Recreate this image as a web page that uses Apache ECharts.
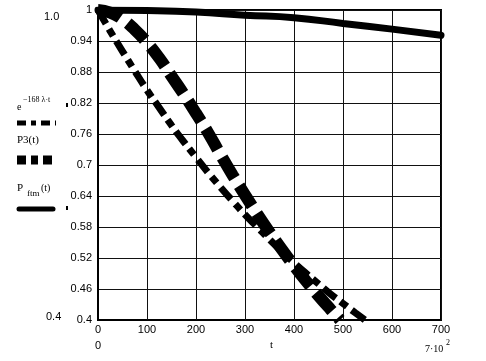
<!DOCTYPE html>
<html>
<head>
<meta charset="utf-8">
<script src="https://cdn.jsdelivr.net/npm/echarts@6/dist/echarts.min.js"></script>
<style>html,body{margin:0;padding:0;background:#fff}#c{width:486px;height:361px}</style>
</head>
<body>
<div id="c"></div>
<script>
// Data
var yTicks = [0.4, 0.46, 0.52, 0.58, 0.64, 0.7, 0.76, 0.82, 0.88, 0.94, 1];
var xTicks = [0, 100, 200, 300, 400, 500, 600, 700];

var expT = [0, 25, 50, 75, 100, 125, 150, 175, 200, 225, 250, 275, 300, 325, 350, 375, 400, 425, 450, 475, 500, 525, 545];
var expV = [1, 0.959, 0.92, 0.882, 0.845, 0.811, 0.777, 0.745, 0.715, 0.685, 0.657, 0.63, 0.604, 0.58, 0.556, 0.533, 0.511, 0.49, 0.47, 0.45, 0.432, 0.414, 0.4];

var p3T = [0, 25, 50, 75, 100, 125, 150, 175, 200, 225, 250, 275, 300, 325, 350, 375, 400, 425, 450, 475, 494];
var p3V = [1, 0.995, 0.982, 0.962, 0.937, 0.907, 0.872, 0.837, 0.8, 0.762, 0.72, 0.68, 0.642, 0.605, 0.57, 0.537, 0.505, 0.475, 0.447, 0.42, 0.4];

var ftmT = [0, 100, 200, 300, 400, 500, 600, 700];
var ftmV = [1, 0.999, 0.996, 0.99, 0.985, 0.974, 0.963, 0.951];

function pairs(t, v) { return t.map(function (x, i) { return [x, v[i]]; }); }

var chart = echarts.init(document.getElementById('c'), null, {renderer: 'canvas'});
var serif = 'Liberation Serif';
var sans = 'Liberation Sans';
chart.setOption({
  animation: false,
  backgroundColor: '#fff',
  grid: {left: 98, right: 45, top: 10, bottom: 41, show: true, borderColor: '#000', borderWidth: 2},
  xAxis: {
    type: 'value', min: 0, max: 700, interval: 100,
    axisLine: {show: true, lineStyle: {color: '#000', width: 1}},
    axisTick: {show: false},
    splitLine: {show: true, lineStyle: {color: '#111', width: 1}},
    axisLabel: {color: '#000', fontFamily: sans, fontSize: 11, margin: 4,
      customValues: xTicks}
  },
  yAxis: {
    type: 'value', min: 0.4, max: 1,
    axisLine: {show: true, lineStyle: {color: '#000', width: 1}},
    axisTick: {show: false, customValues: yTicks},
    splitLine: {show: true, lineStyle: {color: '#111', width: 1}},
    axisLabel: {color: '#000', fontFamily: sans, fontSize: 11, margin: 6,
      customValues: yTicks}
  },
  series: [
    {type: 'line', data: pairs(ftmT, ftmV), smooth: true, showSymbol: false,
      lineStyle: {color: '#000', width: 7, cap: 'round'}},
    {type: 'line', data: pairs(expT, expV), smooth: true, showSymbol: false,
      lineStyle: {color: '#000', width: 7, type: [16, 6, 8, 6]}},
    {type: 'line', data: pairs(p3T, p3V), smooth: true, showSymbol: false,
      lineStyle: {color: '#000', width: 12, type: [24, 9]}}
  ],
  graphic: [
    {type: 'text', left: 44, top: 11, style: {text: '1.0', font: '11px ' + sans, fill: '#000'}},
    {type: 'text', left: 46, top: 311, style: {text: '0.4', font: '11px ' + sans, fill: '#000'}},
    {type: 'text', left: 95, top: 340, style: {text: '0', font: '11px ' + sans, fill: '#000'}},
    {type: 'text', left: 270, top: 340, style: {text: 't', font: '11px ' + serif, fill: '#000'}},
    {type: 'text', left: 425, top: 344, style: {text: '7·10', font: '10px ' + serif, fill: '#000'}},
    {type: 'text', left: 446, top: 339, style: {text: '2', font: '8px ' + serif, fill: '#000'}},
    // legend
    {type: 'text', left: 17, top: 102, style: {text: 'e', font: '10px ' + serif, fill: '#000'}},
    {type: 'text', left: 23, top: 96, style: {text: '−168 λ·t', font: '8px ' + serif, fill: '#000'}},
    {type: 'rect', shape: {x: 66, y: 103, width: 2, height: 4}, style: {fill: '#000'}},
    {type: 'line', shape: {x1: 17, y1: 123, x2: 56, y2: 123}, style: {stroke: '#000', lineWidth: 5, lineDash: [9, 5, 5, 5]}},
    {type: 'text', left: 17, top: 135, style: {text: 'P3(t)', font: '11px ' + serif, fill: '#000'}},
    {type: 'line', shape: {x1: 17, y1: 160, x2: 56, y2: 160}, style: {stroke: '#000', lineWidth: 9, lineDash: [9, 5, 7, 5]}},
    {type: 'text', left: 17, top: 183, style: {text: 'P', font: '11px ' + serif, fill: '#000'}},
    {type: 'text', left: 27, top: 189, style: {text: 'ftm', font: '9px ' + serif, fill: '#000'}},
    {type: 'text', left: 41, top: 183, style: {text: '(t)', font: '10px ' + serif, fill: '#000'}},
    {type: 'line', shape: {x1: 19, y1: 209, x2: 53, y2: 209}, style: {stroke: '#000', lineWidth: 5, lineCap: 'round'}},
    {type: 'rect', shape: {x: 66, y: 206, width: 2, height: 4}, style: {fill: '#000'}}
  ]
});
</script>
</body>
</html>
